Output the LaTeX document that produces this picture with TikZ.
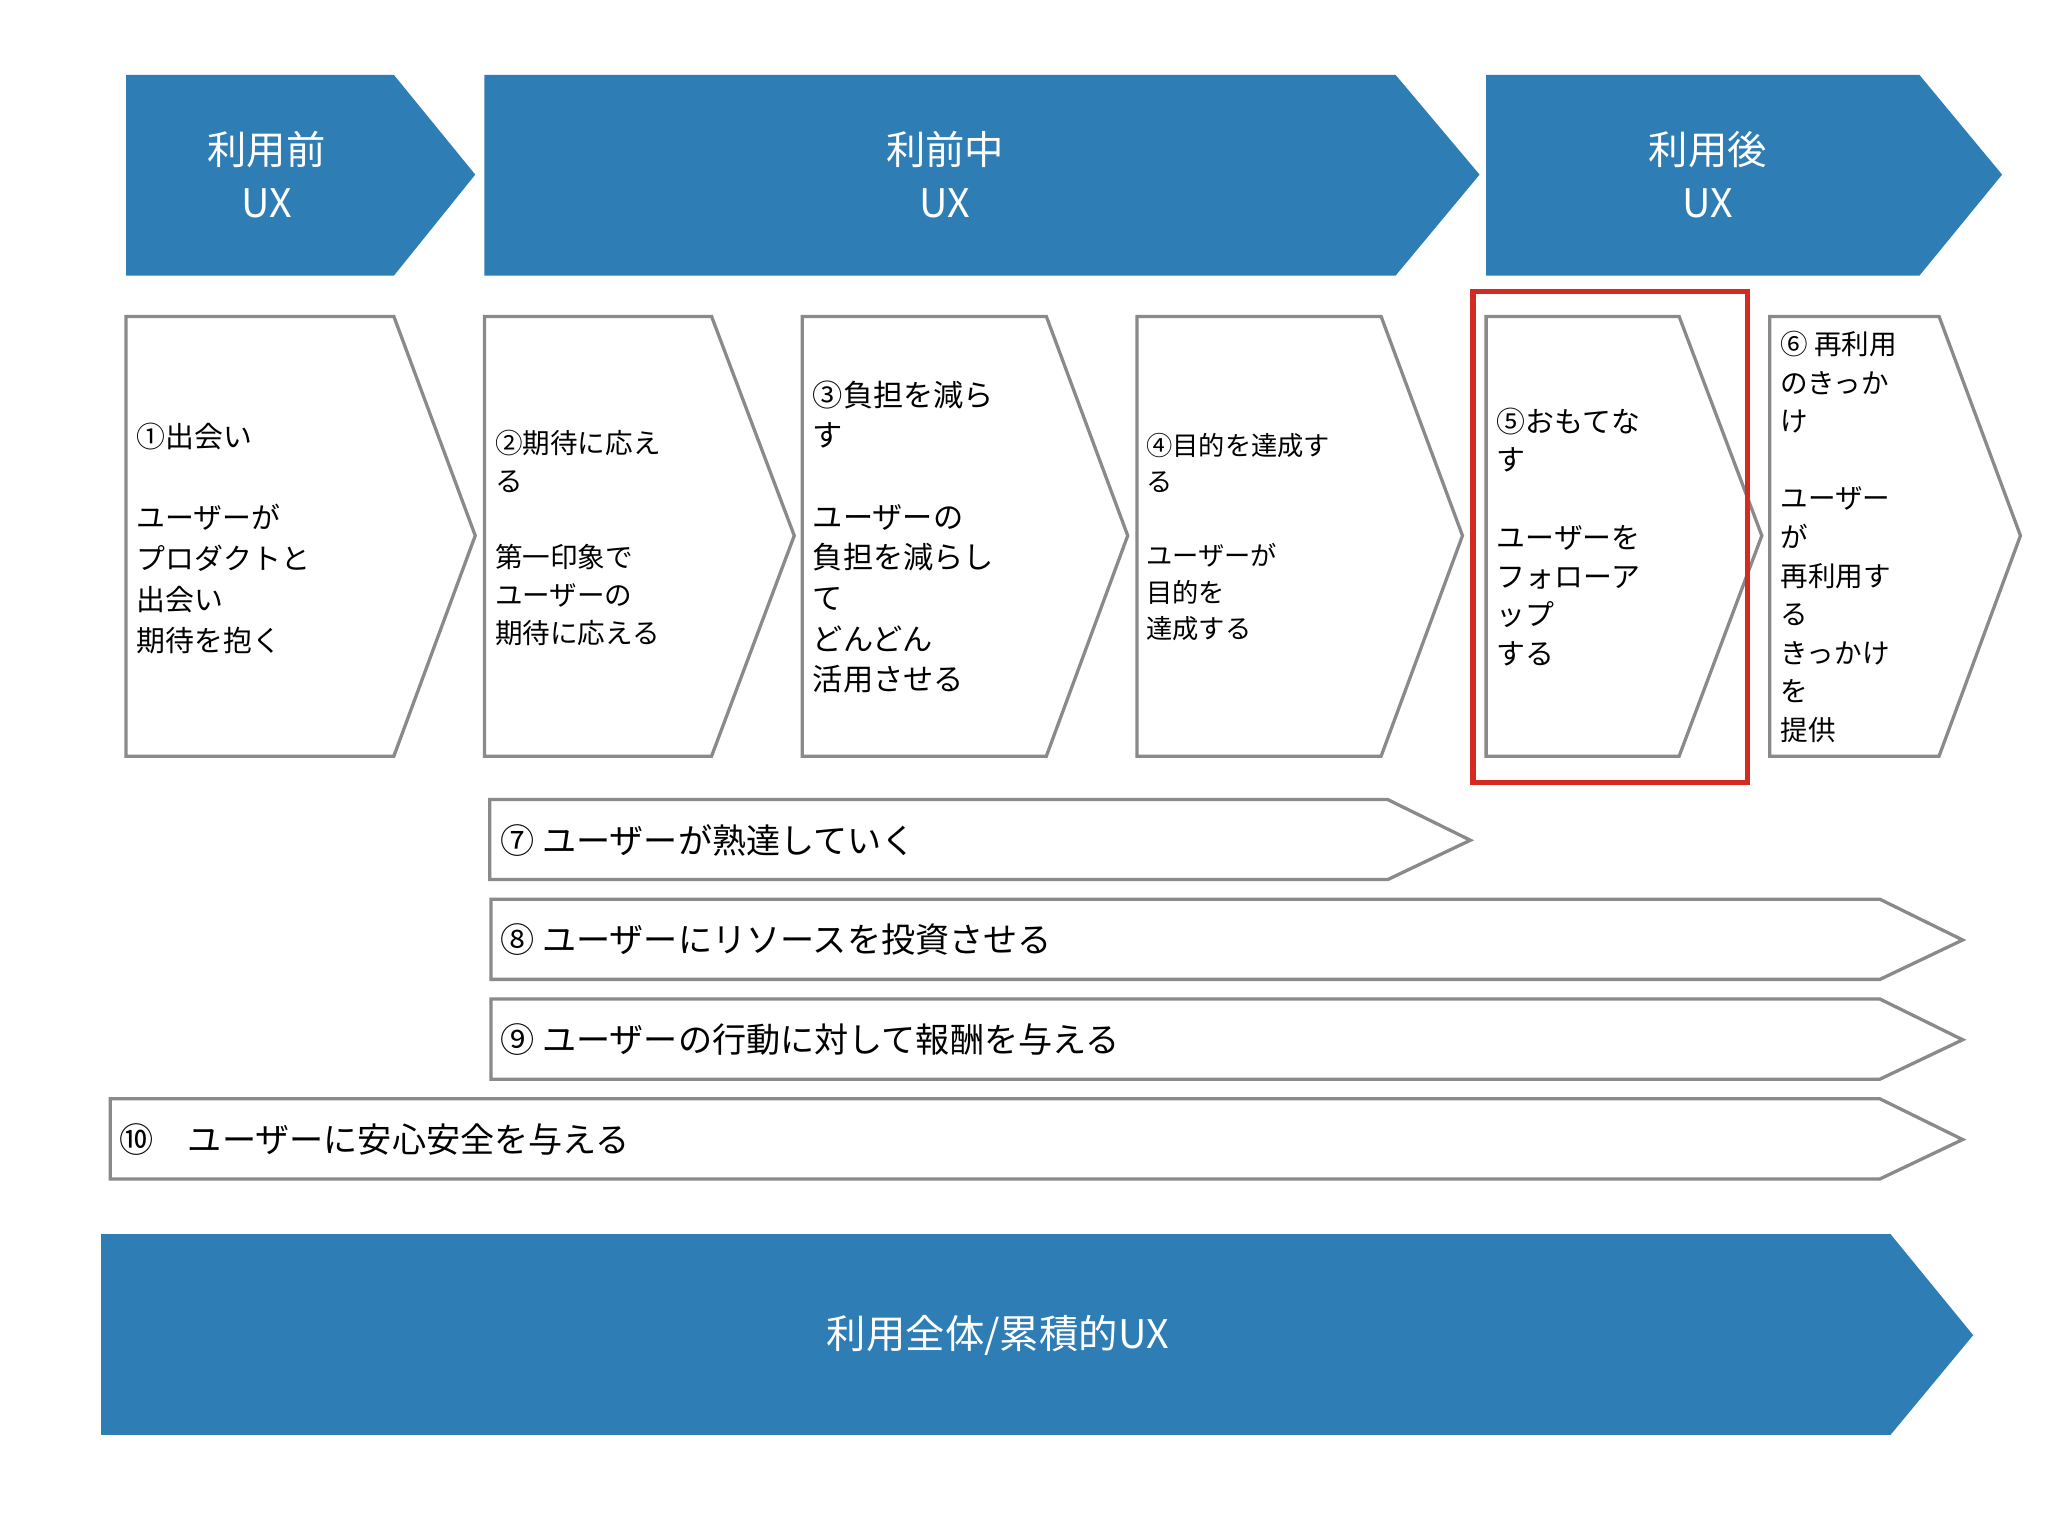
\documentclass[tikz,border=0pt]{standalone}
\usepackage{fontspec}
\setmainfont{Noto Sans CJK JP}
\begin{document}
\begin{tikzpicture}[x=1pt,y=-1pt,
  blu/.style={fill=hdrblue,draw=none},
  stepbox/.style={draw=boxgray,line width=2.5pt,fill=white,line join=miter},
  hdr/.style={text=white,font=\fontsize{30}{40}\selectfont,align=center},
  btxt/.style={anchor=west,align=left,inner sep=0pt}]
\definecolor{hdrblue}{HTML}{2F7DB5}
\definecolor{boxgray}{HTML}{8A8A8A}
\definecolor{redline}{HTML}{D42A22}
\useasboundingbox (0,0) rectangle (1560,1170);
\fill[white] (0,0) rectangle (1560,1170);
% headers
\fill[blu] (96,57)--(300,57)--(362,133)--(300,210)--(96,210)--cycle;
\fill[blu] (369,57)--(1063,57)--(1127,133)--(1063,210)--(369,210)--cycle;
\fill[blu] (1132,57)--(1462,57)--(1525,133)--(1462,210)--(1132,210)--cycle;
\node[hdr] (h1) at (203,133) {利用前\\UX};
\node[hdr] (h2) at (720,133) {利前中\\UX};
\node[hdr] (h3) at (1301,133) {利用後\\UX};
% step boxes
\draw[stepbox] (96,241)--(300,241)--(362,408)--(300,576)--(96,576)--cycle;
\draw[stepbox] (369,241)--(542,241)--(605,408)--(542,576)--(369,576)--cycle;
\draw[stepbox] (611,241)--(797,241)--(859,408)--(797,576)--(611,576)--cycle;
\draw[stepbox] (866,241)--(1052,241)--(1114,408)--(1052,576)--(866,576)--cycle;
\draw[stepbox] (1132,241)--(1279,241)--(1342,408)--(1279,576)--(1132,576)--cycle;
\draw[stepbox] (1348,241)--(1477,241)--(1539,408)--(1477,576)--(1348,576)--cycle;
\draw[redline,line width=4pt] (1122,222) rectangle (1331,596);
\node[btxt,font=\fontsize{22}{31}\selectfont] (t1) at (104,410) {①出会い\\~\\ユーザーが\\プロダクトと\\出会い\\期待を抱く};
\node[btxt,font=\fontsize{21}{29}\selectfont] (t2) at (377,410) {②期待に応え\\る\\~\\第一印象で\\ユーザーの\\期待に応える};
\node[btxt,font=\fontsize{23}{31}\selectfont] (t3) at (619,409) {③負担を減ら\\す\\~\\ユーザーの\\負担を減らし\\て\\どんどん\\活用させる};
\node[btxt,font=\fontsize{20}{28}\selectfont] (t4) at (873,409) {④目的を達成す\\る\\~\\ユーザーが\\目的を\\達成する};
\node[btxt,font=\fontsize{22}{29.5}\selectfont] (t5) at (1140,409) {⑤おもてな\\す\\~\\ユーザーを\\フォローア\\ップ\\する};
\node[btxt,font=\fontsize{21}{29.4}\selectfont] (t6) at (1356,409) {⑥ 再利用\\のきっか\\け\\~\\ユーザー\\が\\再利用す\\る\\きっかけ\\を\\提供};
% long arrows
\draw[stepbox] (373,609)--(1057,609)--(1120,640)--(1057,670)--(373,670)--cycle;
\draw[stepbox] (374,685)--(1432,685)--(1495,716)--(1432,746)--(374,746)--cycle;
\draw[stepbox] (374,761)--(1432,761)--(1495,792)--(1432,822)--(374,822)--cycle;
\draw[stepbox] (84,837)--(1432,837)--(1495,868)--(1432,898)--(84,898)--cycle;
\node[btxt,font=\fontsize{26}{30}\selectfont] (a7) at (381,640) {⑦ ユーザーが熟達していく};
\node[btxt,font=\fontsize{26}{30}\selectfont] (a8) at (381,716) {⑧ ユーザーにリソースを投資させる};
\node[btxt,font=\fontsize{26}{30}\selectfont] (a9) at (381,792) {⑨ ユーザーの行動に対して報酬を与える};
\node[btxt,font=\fontsize{26}{30}\selectfont] (a10) at (91,868) {⑩　ユーザーに安心安全を与える};
% bottom
\fill[blu] (77,940)--(1440,940)--(1503,1017)--(1440,1093)--(77,1093)--cycle;
\node[hdr] (bt) at (760,1017) {利用全体/累積的UX};
\end{tikzpicture}
\end{document}
